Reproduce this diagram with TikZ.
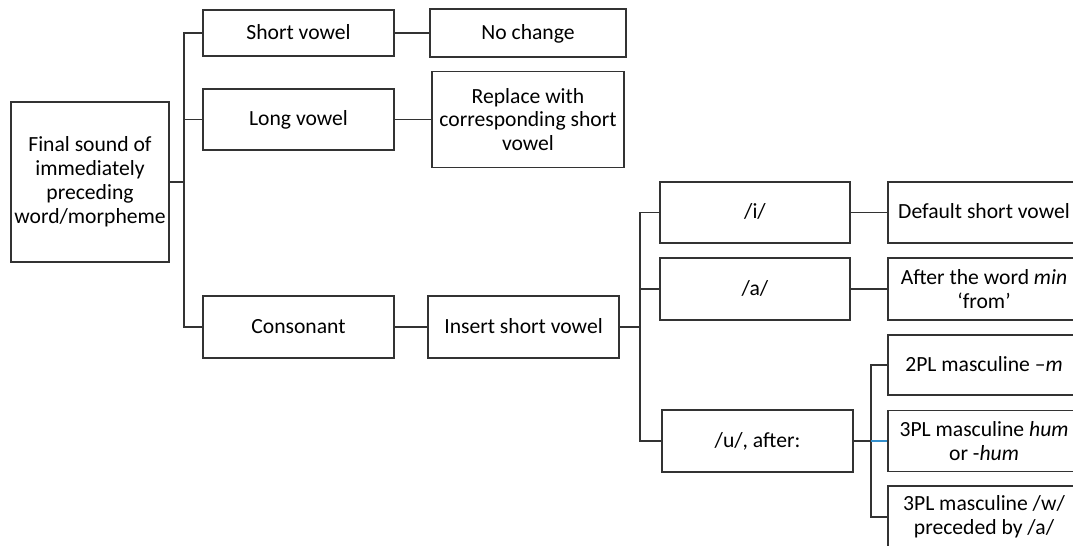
\documentclass[tikz,border=0pt]{standalone}
\usepackage{fontspec}
\setmainfont{Carlito}
\usepackage{tikz}

\begin{document}
\begin{tikzpicture}[
                box/.style={draw=black!80, line width=0.9pt, fill=white, align=center, inner sep=2pt,
                            font=\fontsize{12.3}{13.6}\selectfont, minimum width=3.82cm, minimum height=1.22cm},
                one/.style={text height=1.8ex, text depth=0.25ex},
                link/.style={draw=black!80, line width=0.9pt}]
                \useasboundingbox (0,0) rectangle (21.46,10.92);
                \clip (0,0) rectangle (21.46,10.92);

                \coordinate (b1) at (3.68,0);
                \coordinate (b2) at (12.8,0);
                \coordinate (b3) at (17.42,0);

                \node[box, minimum width=3.16cm, minimum height=3.2cm] (root) at (1.8,7.28) {Final sound of\\immediately\\preceding\\word/morpheme};

                \node[box, one, minimum height=0.92cm] (short) at (5.97,10.26) {Short vowel};
                \node[box, one] (long) at (5.97,8.53) {Long vowel};
                \node[box, one, minimum height=1.24cm] (cons) at (5.97,4.38) {Consonant};

                \node[box, one, minimum width=3.92cm, minimum height=0.96cm] (nochange) at (10.56,10.26) {No change};
                \node[box, minimum width=3.84cm, minimum height=1.92cm] (replace) at (10.56,8.53) {Replace with\\corresponding short\\vowel};
                \node[box, one, minimum height=1.24cm] (insert) at (10.47,4.38) {Insert short vowel};

                \node[box, one, minimum width=3.8cm] (vi) at (15.1,6.67) {/i/};
                \node[box, one, minimum width=3.8cm, minimum height=1.24cm] (va) at (15.1,5.14) {/a/};
                \node[box, one, minimum height=1.24cm] (vu) at (15.15,2.1) {/u/, after:};

                \node[box, one, minimum width=3.84cm] (default) at (19.68,6.67) {Default short vowel};
                \node[box, minimum width=3.84cm, minimum height=1.24cm] (after) at (19.68,5.14) {After the word \textit{min}\\‘from’};
                \node[box, one, minimum width=3.84cm, minimum height=1.2cm] (pltwo) at (19.68,3.62) {2PL masculine –\textit{m}};
                \node[box, minimum width=3.84cm] (plhum) at (19.68,2.1) {3PL masculine \textit{hum}\\or -\textit{hum}};
                \node[box, minimum width=3.84cm, minimum height=1.24cm] (plw) at (19.68,0.58) {3PL masculine /w/\\preceded by /a/};

                % first split
                \draw[link] (root.east) -- (root.east -| b1);
                \draw[link] (short.west) -- (short.west -| b1) -- (cons.west -| b1) -- (cons.west);
                \draw[link] (long.west) -- (long.west -| b1);

                \draw[link] (short) -- (nochange);
                \draw[link] (long) -- (replace);
                \draw[link] (cons) -- (insert);

                % short vowel inserted
                \draw[link] (insert.east) -- (insert.east -| b2);
                \draw[link] (vi.west) -- (vi.west -| b2) -- (vu.west -| b2) -- (vu.west);
                \draw[link] (va.west) -- (va.west -| b2);

                \draw[link] (vi) -- (default);
                \draw[link] (va) -- (after);

                % /u/ cases
                \draw[link] (vu.east) -- (vu.east -| b3);
                \draw[link] (pltwo.west) -- (pltwo.west -| b3) -- (plw.west -| b3) -- (plw.west);
                \draw[link, draw=blue!40!cyan!60!gray] (plhum.west -| b3) -- (plhum.west);
\end{tikzpicture}
\end{document}
